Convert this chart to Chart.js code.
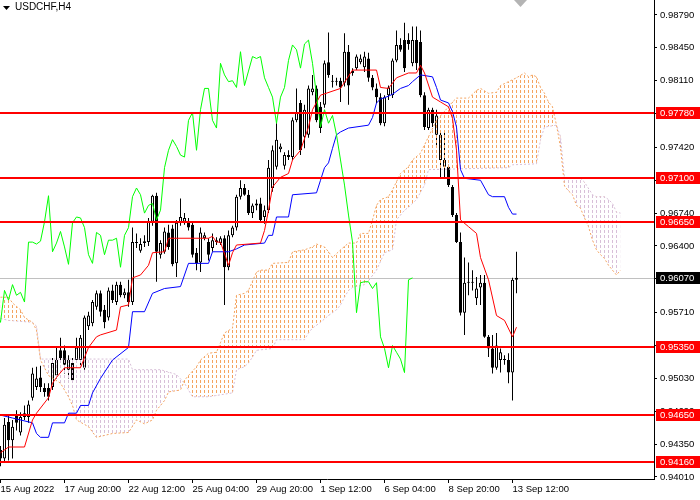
<!DOCTYPE html>
<html>
<head>
<meta charset="utf-8">
<title>USDCHF,H4</title>
<script src="https://cdn.jsdelivr.net/npm/chart.js@4.4.0/dist/chart.umd.min.js"></script>
<style>
  html, body { margin: 0; padding: 0; background: #fff; }
  #wrap { width: 700px; height: 500px; }
</style>
</head>
<body>
<div id="wrap"><canvas id="grafico" width="700" height="500"></canvas></div>
<script>
// velas H4, barra 0 = 15 Aug 04:00
const abertura = [
  0.9429, 0.9420, 0.9458, 0.9439, 0.9465, 0.9447, 0.9463, 0.9463, 0.9483, 0.9494,
  0.9504, 0.9493, 0.9493, 0.9494, 0.9506, 0.9532, 0.9532, 0.9512, 0.9519, 0.9522,
  0.9522, 0.9514, 0.9557, 0.9560, 0.9577, 0.9591, 0.9574, 0.9566, 0.9594, 0.9582,
  0.9600, 0.9589, 0.9592, 0.9582, 0.9643, 0.9635, 0.9643, 0.9644, 0.9665, 0.9692,
  0.9631, 0.9634, 0.9654, 0.9658, 0.9622, 0.9664, 0.9665, 0.9664, 0.9662, 0.9633,
  0.9623, 0.9648, 0.9644, 0.9638, 0.9644, 0.9643, 0.9648, 0.9618, 0.9651, 0.9659,
  0.9691, 0.9700, 0.9693, 0.9674, 0.9682, 0.9684, 0.9670, 0.9677, 0.9700, 0.9722,
  0.9740, 0.9723, 0.9734, 0.9732, 0.9770, 0.9788, 0.9753, 0.9755, 0.9799, 0.9803,
  0.9784, 0.9786, 0.9830, 0.9811, 0.9810, 0.9811, 0.9809, 0.9841, 0.9819, 0.9824,
  0.9830, 0.9825, 0.9834, 0.9814, 0.9803, 0.9794, 0.9767, 0.9796, 0.9796, 0.9832,
  0.9848, 0.9853, 0.9853, 0.9829, 0.9853, 0.9851, 0.9796, 0.9762, 0.9781, 0.9755,
  0.9729, 0.9722, 0.9722, 0.9701, 0.9672, 0.9644, 0.9571, 0.9602, 0.9602, 0.9586,
  0.9597, 0.9602, 0.9546, 0.9534, 0.9514, 0.9522, 0.9522, 0.9522, 0.9509, 0.9605
];
const maxima = [
  0.9433, 0.9462, 0.9465, 0.9460, 0.9470, 0.9468, 0.9475, 0.9480, 0.9514, 0.9515,
  0.9516, 0.9498, 0.9498, 0.9524, 0.9535, 0.9545, 0.9537, 0.9527, 0.9524, 0.9545,
  0.9548, 0.9568, 0.9572, 0.9584, 0.9594, 0.9594, 0.9579, 0.9597, 0.9600, 0.9603,
  0.9603, 0.9596, 0.9605, 0.9659, 0.9653, 0.9648, 0.9651, 0.9669, 0.9693, 0.9695,
  0.9646, 0.9659, 0.9662, 0.9662, 0.9667, 0.9689, 0.9674, 0.9669, 0.9665, 0.9638,
  0.9659, 0.9654, 0.9648, 0.9653, 0.9649, 0.9650, 0.9651, 0.9656, 0.9661, 0.9693,
  0.9708, 0.9704, 0.9698, 0.9684, 0.9688, 0.9690, 0.9682, 0.9729, 0.9744, 0.9767,
  0.9746, 0.9737, 0.9739, 0.9773, 0.9803, 0.9791, 0.9786, 0.9806, 0.9817, 0.9806,
  0.9789, 0.9832, 0.9861, 0.9817, 0.9814, 0.9814, 0.9860, 0.9848, 0.9824, 0.9838,
  0.9838, 0.9841, 0.9840, 0.9817, 0.9808, 0.9798, 0.9796, 0.9806, 0.9834, 0.9863,
  0.9855, 0.9871, 0.9860, 0.9867, 0.9867, 0.9863, 0.9799, 0.9783, 0.9783, 0.9781,
  0.9758, 0.9758, 0.9724, 0.9703, 0.9674, 0.9654, 0.9628, 0.9623, 0.9615, 0.9608,
  0.9610, 0.9610, 0.9548, 0.9548, 0.9550, 0.9534, 0.9527, 0.9529, 0.9607, 0.9634
];
const minima = [
  0.9412, 0.9416, 0.9418, 0.9420, 0.9449, 0.9444, 0.9460, 0.9457, 0.9480, 0.9491,
  0.9489, 0.9484, 0.9480, 0.9491, 0.9503, 0.9520, 0.9508, 0.9503, 0.9499, 0.9520,
  0.9514, 0.9512, 0.9553, 0.9557, 0.9574, 0.9567, 0.9555, 0.9563, 0.9581, 0.9579,
  0.9587, 0.9586, 0.9577, 0.9579, 0.9638, 0.9633, 0.9639, 0.9640, 0.9661, 0.9603,
  0.9627, 0.9632, 0.9636, 0.9619, 0.9608, 0.9661, 0.9662, 0.9656, 0.9628, 0.9615,
  0.9613, 0.9646, 0.9625, 0.9634, 0.9641, 0.9641, 0.9579, 0.9615, 0.9649, 0.9656,
  0.9688, 0.9692, 0.9672, 0.9669, 0.9677, 0.9665, 0.9663, 0.9674, 0.9696, 0.9719,
  0.9737, 0.9719, 0.9729, 0.9729, 0.9768, 0.9734, 0.9741, 0.9752, 0.9796, 0.9768,
  0.9757, 0.9783, 0.9814, 0.9804, 0.9806, 0.9789, 0.9805, 0.9786, 0.9816, 0.9822,
  0.9828, 0.9820, 0.9810, 0.9801, 0.9788, 0.9765, 0.9764, 0.9791, 0.9793, 0.9830,
  0.9841, 0.9820, 0.9843, 0.9826, 0.9822, 0.9794, 0.9760, 0.9760, 0.9763, 0.9742,
  0.9710, 0.9710, 0.9701, 0.9670, 0.9643, 0.9568, 0.9548, 0.9589, 0.9594, 0.9579,
  0.9579, 0.9545, 0.9525, 0.9508, 0.9512, 0.9509, 0.9517, 0.9498, 0.9480, 0.9591
];
const fechamento = [
  0.9420, 0.9455, 0.9439, 0.9453, 0.9457, 0.9463, 0.9467, 0.9476, 0.9508, 0.9503,
  0.9494, 0.9489, 0.9484, 0.9519, 0.9522, 0.9524, 0.9517, 0.9522, 0.9501, 0.9535,
  0.9545, 0.9566, 0.9568, 0.9582, 0.9591, 0.9572, 0.9561, 0.9594, 0.9584, 0.9600,
  0.9589, 0.9592, 0.9582, 0.9644, 0.9644, 0.9642, 0.9645, 0.9665, 0.9692, 0.9634,
  0.9643, 0.9655, 0.9639, 0.9621, 0.9664, 0.9670, 0.9669, 0.9659, 0.9631, 0.9622,
  0.9654, 0.9651, 0.9631, 0.9646, 0.9646, 0.9648, 0.9618, 0.9651, 0.9659, 0.9691,
  0.9700, 0.9693, 0.9674, 0.9682, 0.9684, 0.9667, 0.9677, 0.9721, 0.9739, 0.9750,
  0.9743, 0.9734, 0.9732, 0.9770, 0.9778, 0.9739, 0.9781, 0.9803, 0.9803, 0.9770,
  0.9762, 0.9829, 0.9817, 0.9810, 0.9811, 0.9804, 0.9841, 0.9806, 0.9821, 0.9836,
  0.9834, 0.9836, 0.9814, 0.9804, 0.9794, 0.9767, 0.9794, 0.9804, 0.9832, 0.9848,
  0.9843, 0.9824, 0.9849, 0.9853, 0.9829, 0.9796, 0.9763, 0.9781, 0.9767, 0.9775,
  0.9755, 0.9729, 0.9703, 0.9672, 0.9644, 0.9571, 0.9602, 0.9603, 0.9603, 0.9596,
  0.9602, 0.9546, 0.9534, 0.9514, 0.9537, 0.9530, 0.9523, 0.9509, 0.9605, 0.9607
];

const tenkan = [
  [0, 0.9426], [2, 0.9432], [6, 0.9432], [8, 0.9460], [9, 0.9467], [12, 0.9483], [13, 0.9498],
  [14, 0.9504], [16, 0.9514], [20, 0.9514], [22, 0.9535], [24, 0.9546], [25, 0.9548], [29, 0.9553],
  [30, 0.9577], [32, 0.9579], [33, 0.9607], [35, 0.9610], [37, 0.9620], [38, 0.9633], [41, 0.9634],
  [42, 0.9648], [52, 0.9648], [53, 0.9650], [54, 0.9644], [55, 0.9644], [57, 0.9620], [58, 0.9633],
  [59, 0.9641], [65, 0.9643], [66, 0.9656], [67, 0.9677], [68, 0.9701], [70, 0.9711], [72, 0.9715],
  [73, 0.9729], [75, 0.9739], [77, 0.9763], [78, 0.9781], [80, 0.9796], [85, 0.9803], [88, 0.9822],
  [94, 0.9822], [95, 0.9804], [97, 0.9803], [99, 0.9814], [102, 0.9819], [104, 0.9819], [105, 0.9827],
  [106, 0.9819], [108, 0.9794], [110, 0.9789], [112, 0.9784], [113, 0.9772], [114, 0.9739],
  [115, 0.9667], [117, 0.9660], [119, 0.9653], [120, 0.9628], [122, 0.9605], [124, 0.9568],
  [126, 0.9563], [128, 0.9546], [129, 0.9556]
];
const kijun = [
  [0, 0.9465], [3, 0.9462], [8, 0.9457], [9, 0.9446], [10, 0.9442], [12, 0.9442], [13, 0.9457],
  [16, 0.9457], [17, 0.9467], [19, 0.9467], [20, 0.9475], [22, 0.9475], [23, 0.9488], [25, 0.9503],
  [28, 0.9522], [32, 0.9535], [33, 0.9572], [36, 0.9572], [38, 0.9591], [41, 0.9596], [45, 0.9598],
  [47, 0.9622], [52, 0.9622], [53, 0.9634], [57, 0.9634], [59, 0.9637], [61, 0.9641], [66, 0.9643],
  [67, 0.9651], [68, 0.9651], [69, 0.9670], [72, 0.9670], [73, 0.9693], [79, 0.9695], [80, 0.9708],
  [81, 0.9721], [82, 0.9726], [83, 0.9741], [84, 0.9755], [85, 0.9758], [87, 0.9762], [92, 0.9765],
  [93, 0.9773], [94, 0.9788], [95, 0.9792], [97, 0.9795], [98, 0.9797], [100, 0.9803], [102, 0.9806],
  [103, 0.9810], [105, 0.9817], [108, 0.9815], [109, 0.9804], [110, 0.9791], [112, 0.9788],
  [113, 0.9779], [114, 0.9763], [115, 0.9719], [116, 0.9710], [120, 0.9708], [122, 0.9693],
  [123, 0.9691], [126, 0.9691], [127, 0.9680], [128, 0.9673], [129, 0.9673]
];
const senkouA = [
  [0, 0.9587], [2, 0.9587], [3, 0.9581], [5, 0.9574], [6, 0.9566], [8, 0.9561], [9, 0.9553],
  [10, 0.9522], [12, 0.9506], [15, 0.9498], [16, 0.9491], [17, 0.9484], [18, 0.9475], [19, 0.9460],
  [22, 0.9453], [24, 0.9442], [26, 0.9444], [28, 0.9446], [32, 0.9447], [34, 0.9460], [36, 0.9456],
  [38, 0.9460], [39, 0.9470], [41, 0.9480], [42, 0.9489], [45, 0.9491], [46, 0.9501], [47, 0.9506],
  [49, 0.9515], [50, 0.9522], [52, 0.9529], [54, 0.9530], [55, 0.9540], [56, 0.9550], [58, 0.9555],
  [59, 0.9589], [61, 0.9591], [62, 0.9594], [64, 0.9613], [65, 0.9615], [67, 0.9615], [68, 0.9622],
  [72, 0.9623], [73, 0.9634], [76, 0.9636], [78, 0.9639], [79, 0.9642], [81, 0.9639], [82, 0.9634],
  [83, 0.9628], [84, 0.9632], [85, 0.9636], [87, 0.9643], [89, 0.9643], [90, 0.9653], [92, 0.9653],
  [93, 0.9667], [94, 0.9682], [95, 0.9688], [97, 0.9691], [98, 0.9698], [100, 0.9715], [102, 0.9722],
  [103, 0.9729], [105, 0.9736], [107, 0.9753], [109, 0.9770], [112, 0.9784], [113, 0.9789],
  [114, 0.9793], [117, 0.9793], [119, 0.9801], [120, 0.9803], [122, 0.9798], [124, 0.9799],
  [125, 0.9806], [127, 0.9810], [129, 0.9814], [131, 0.9819], [132, 0.9815], [133, 0.9817],
  [134, 0.9815], [135, 0.9804], [136, 0.9798], [137, 0.9789], [138, 0.9784], [139, 0.9765],
  [140, 0.9742], [141, 0.9702], [142, 0.9697], [143, 0.9693], [144, 0.9682], [145, 0.9679],
  [146, 0.9669], [147, 0.9660], [148, 0.9646], [149, 0.9636], [150, 0.9631], [151, 0.9627],
  [152, 0.9620], [153, 0.9615], [154, 0.9610], [155, 0.9615]
];
const senkouB = [
  [0, 0.9565], [2, 0.9563], [8, 0.9561], [9, 0.9557], [10, 0.9523], [32, 0.9523], [33, 0.9512],
  [40, 0.9512], [44, 0.9507], [46, 0.9498], [48, 0.9484], [52, 0.9484], [55, 0.9486], [58, 0.9488],
  [59, 0.9512], [61, 0.9515], [62, 0.9519], [63, 0.9525], [64, 0.9532], [68, 0.9534], [69, 0.9543],
  [76, 0.9543], [77, 0.9550], [78, 0.9555], [80, 0.9561], [82, 0.9568], [84, 0.9574], [85, 0.9579],
  [86, 0.9587], [87, 0.9594], [88, 0.9597], [91, 0.9600], [92, 0.9604], [94, 0.9615], [96, 0.9633],
  [98, 0.9636], [99, 0.9667], [101, 0.9677], [102, 0.9680], [104, 0.9688], [106, 0.9703],
  [107, 0.9719], [127, 0.9721], [128, 0.9724], [134, 0.9725], [135, 0.9750], [136, 0.9763],
  [139, 0.9765], [140, 0.9753], [141, 0.9710], [145, 0.9710], [146, 0.9706], [148, 0.9693],
  [149, 0.9691], [151, 0.9691], [152, 0.9688], [153, 0.9684], [154, 0.9675], [155, 0.9674]
];
const deslocChikou = 26;

const niveis = [0.97780, 0.97100, 0.96650, 0.95350, 0.94650, 0.94160];
const precoAtual = 0.96070;

const valoresPreco = [0.98790, 0.98450, 0.98110, 0.97770, 0.97420, 0.97080, 0.96740, 0.96400,
  0.96060, 0.95710, 0.95370, 0.95030, 0.94690, 0.94350, 0.94010];
const barrasTempo = [0, 16, 32, 48, 64, 80, 96, 112, 128];
const rotulosTempo = ['15 Aug 2022', '17 Aug 20:00', '22 Aug 12:00', '25 Aug 04:00', '29 Aug 20:00',
  '1 Sep 12:00', '6 Sep 04:00', '8 Sep 20:00', '13 Sep 12:00'];

const larguraEixoY = 46;
const alturaEixoX = 21;
const pxPorBarra = 4;
const xInicio = -0.125;
const fonte = 'Liberation Sans';

window.onload = function () {
    carregarGrafico();
};

function carregarGrafico() {
    const canvas = document.getElementById('grafico');
    const ctx = canvas.getContext('2d');
    const corAreia = '#f4a460';
    const corCardo = '#d8bfd8';

    const hachura = (cor) => {
        const c = document.createElement('canvas');
        c.width = 4;
        c.height = 5;
        const g = c.getContext('2d');
        g.fillStyle = cor;
        g.fillRect(0, 0, 1, 3);
        return ctx.createPattern(c, 'repeat');
    };

    const pares = (lista) => lista.map(([x, y]) => ({ x, y }));
    const xFim = xInicio + (canvas.width - larguraEixoY) / pxPorBarra;

    Chart.defaults.font.family = fonte;
    Chart.defaults.font.size = 9.5;
    Chart.defaults.color = '#000';

    const linha = (dados, cor, ordem, extra) => Object.assign({
        type: 'line',
        data: dados,
        borderColor: cor,
        borderWidth: 1,
        pointRadius: 0,
        pointHitRadius: 0,
        tension: 0,
        fill: false,
        order: ordem
    }, extra || {});

    const datasets = [
        {
            type: 'bar',
            data: maxima.map((h, i) => ({ x: i, y: [minima[i], h] })),
            backgroundColor: '#000',
            borderWidth: 0,
            barThickness: 1,
            grouped: false,
            inflateAmount: 0,
            order: 10
        },
        {
            type: 'bar',
            data: abertura.map((o, i) => ({ x: i, y: [o, fechamento[i]] })),
            backgroundColor: abertura.map((o, i) => (fechamento[i] >= o ? '#fff' : '#000')),
            borderColor: '#000',
            borderWidth: 1,
            borderSkipped: false,
            barThickness: 3,
            minBarLength: 1,
            grouped: false,
            inflateAmount: 0,
            order: 9
        },
        linha(pares(senkouB), corCardo, 6, { borderDash: [2, 2] }),
        linha(pares(senkouA), corAreia, 5, {
            borderDash: [2, 2],
            fill: { target: 2, above: hachura(corAreia), below: hachura(corCardo) }
        }),
        linha(pares(kijun), '#0000ff', 3),
        linha(pares(tenkan), '#ff0000', 2),
        linha(fechamento.map((c, i) => ({ x: i - deslocChikou, y: c })), '#00ff00', 1)
    ];

    const marcacoes = {
        id: 'marcacoes',
        beforeDatasetsDraw(chart) {
            const { ctx, chartArea: a, scales: { y } } = chart;
            const yb = Math.round(y.getPixelForValue(precoAtual)) + 0.5;
            ctx.save();
            ctx.strokeStyle = '#c0c0c0';
            ctx.lineWidth = 1;
            ctx.beginPath();
            ctx.moveTo(a.left, yb);
            ctx.lineTo(a.right, yb);
            ctx.stroke();
            ctx.restore();
        },
        afterDatasetsDraw(chart) {
            const { ctx, chartArea: a, scales: { y } } = chart;
            ctx.save();
            ctx.strokeStyle = '#ff0000';
            ctx.lineWidth = 2;
            niveis.forEach((n) => {
                const yy = Math.round(y.getPixelForValue(n));
                ctx.beginPath();
                ctx.moveTo(a.left, yy);
                ctx.lineTo(a.right, yy);
                ctx.stroke();
            });
            ctx.restore();
        },
        afterDraw(chart) {
            const { ctx, chartArea: a, scales: { y } } = chart;
            ctx.save();
            ctx.font = `9.5px "${fonte}"`;
            ctx.textBaseline = 'middle';
            const etiqueta = (valor, fundo) => {
                const yy = Math.round(y.getPixelForValue(valor));
                ctx.fillStyle = fundo;
                ctx.fillRect(a.right + 2, yy - 6, chart.width - a.right - 2, 12);
                ctx.fillStyle = '#fff';
                ctx.fillText(valor.toFixed(5), a.right + 6, yy + 0.5);
            };
            niveis.forEach((n) => etiqueta(n, '#ff0000'));
            etiqueta(precoAtual, '#000');

            // titulo do simbolo
            ctx.fillStyle = '#000';
            ctx.beginPath();
            ctx.moveTo(3, 6);
            ctx.lineTo(10, 6);
            ctx.lineTo(6.5, 10);
            ctx.closePath();
            ctx.fill();
            ctx.font = `10px "${fonte}"`;
            ctx.fillText('USDCHF,H4', 15, 7.5);

            // marcador de deslocamento
            ctx.fillStyle = '#b4b4b4';
            ctx.beginPath();
            ctx.moveTo(514, 0);
            ctx.lineTo(527, 0);
            ctx.lineTo(520.5, 7);
            ctx.closePath();
            ctx.fill();
            ctx.restore();
        }
    };

    new Chart(ctx, {
        type: 'line',
        data: { datasets },
        options: {
            responsive: false,
            animation: false,
            devicePixelRatio: 1,
            events: [],
            layout: { padding: 0 },
            plugins: { legend: { display: false }, tooltip: { enabled: false } },
            scales: {
                x: {
                    type: 'linear',
                    min: xInicio,
                    max: xFim,
                    bounds: 'data',
                    offset: false,
                    grid: { drawOnChartArea: false, drawTicks: true, tickLength: 4, color: '#000', offset: false },
                    border: { display: true, color: '#000' },
                    ticks: {
                        autoSkip: false,
                        maxRotation: 0,
                        minRotation: 0,
                        align: 'start',
                        padding: 1,
                        callback: (v) => {
                            const i = barrasTempo.indexOf(v);
                            return i >= 0 ? rotulosTempo[i] : '';
                        }
                    },
                    afterBuildTicks: (scale) => { scale.ticks = barrasTempo.map((v) => ({ value: v })); },
                    afterFit: (scale) => {
                        scale.height = alturaEixoX;
                        scale.paddingLeft = 0;
                        scale.paddingRight = 0;
                    }
                },
                y: {
                    type: 'linear',
                    position: 'right',
                    min: 0.93989,
                    max: 0.98945,
                    bounds: 'data',
                    beginAtZero: false,
                    grid: { drawOnChartArea: false, drawTicks: true, tickLength: 3, color: '#000' },
                    border: { display: true, color: '#000' },
                    ticks: {
                        autoSkip: false,
                        padding: 3,
                        callback: (v) => Number(v).toFixed(5)
                    },
                    afterBuildTicks: (scale) => { scale.ticks = valoresPreco.map((v) => ({ value: v })); },
                    afterFit: (scale) => {
                        scale.width = larguraEixoY;
                        scale.paddingTop = 0;
                        scale.paddingBottom = 0;
                    }
                }
            }
        },
        plugins: [marcacoes]
    });
}
</script>
</body>
</html>
